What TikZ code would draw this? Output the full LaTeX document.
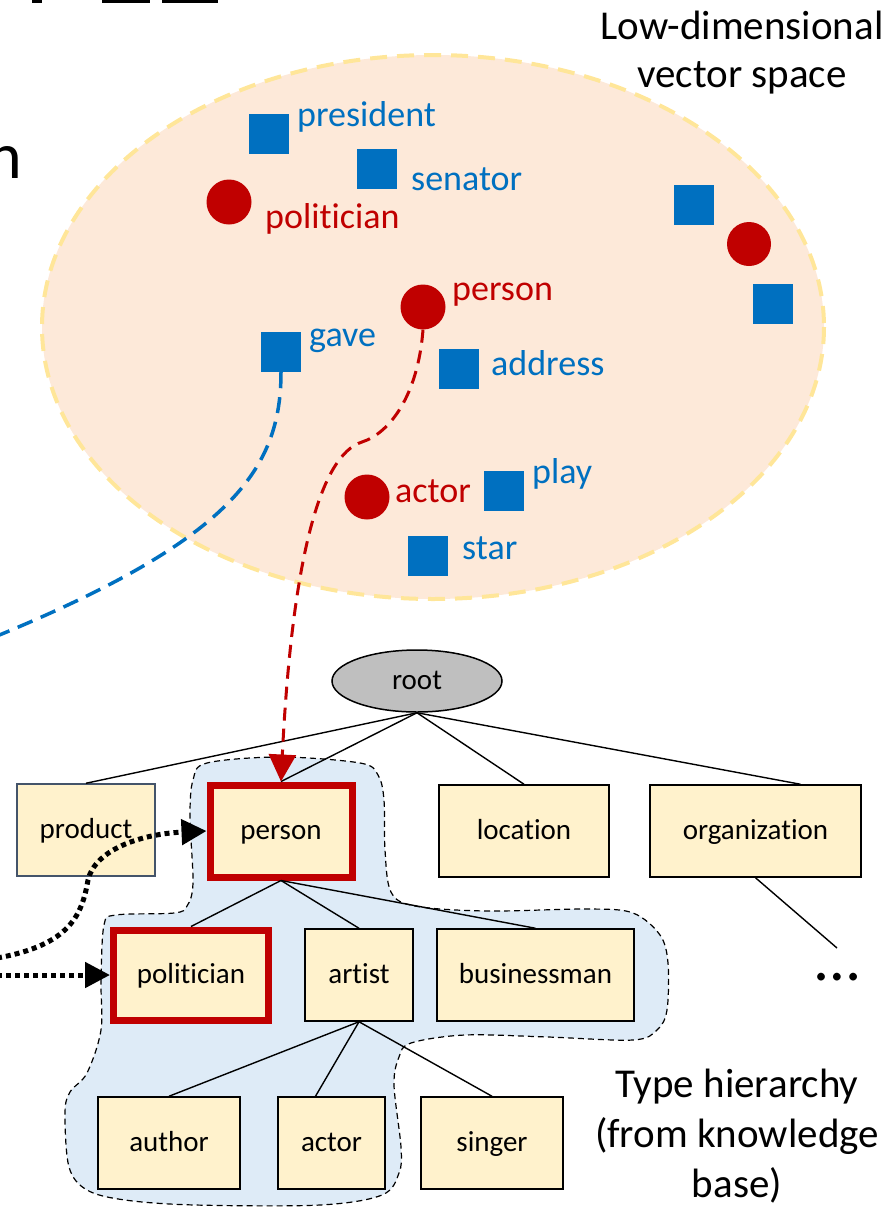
\documentclass[tikz,border=0pt]{standalone}
\usepackage{fontspec}
\setmainfont{Carlito}[Ligatures=NoCommon]
\usetikzlibrary{arrows.meta,shapes.geometric}
\definecolor{vecblue}{HTML}{0070C0}
\definecolor{vecred}{HTML}{C00000}
\definecolor{spacefill}{HTML}{FDE9D9}
\definecolor{spaceedge}{HTML}{FFE699}
\definecolor{typefill}{HTML}{FFF2CC}
\definecolor{groupfill}{HTML}{DEEBF7}
\definecolor{rootfill}{HTML}{BFBFBF}
\definecolor{slate}{HTML}{44546A}

\begin{document}
\begin{tikzpicture}[x=1pt,y=-1pt,
  wordsq/.style={rectangle, fill=vecblue, minimum size=40pt, inner sep=0pt},
  typedot/.style={circle, fill=vecred, minimum size=45pt, inner sep=0pt},
  wordlbl/.style={anchor=base west, inner sep=0pt, text=vecblue, font=\fontsize{36}{43}\selectfont},
  typelbl/.style={wordlbl, text=vecred},
  typebox/.style={rectangle, draw=black, line width=1.5pt, fill=typefill, minimum height=92pt, inner sep=0pt, text height=20pt, text depth=4pt, font=\fontsize{29}{35}\selectfont},
  hitbox/.style={typebox, draw=vecred, line width=7pt},
  treeline/.style={draw=black, line width=1.4pt},
  caption/.style={align=center, anchor=north, inner sep=0pt, font=\fontsize{41}{48}\selectfont},
  bluedash/.style={draw=vecblue, line width=3.5pt, dash pattern=on 16pt off 9pt},
  reddash/.style={draw=vecred, line width=3pt, dash pattern=on 13pt off 8pt},
  dotarrow/.style={draw=black, line width=5pt, dash pattern=on 5pt off 4pt, -{Triangle[length=25pt,width=25pt]}}
]
\useasboundingbox (0,0) rectangle (893,1208);

% cut-off title fragments along the upper edge
\fill[black] (32,0) rectangle (42,3);
\fill[black] (102,0) rectangle (150,3);
\fill[black] (162,0) rectangle (218,3);
\node[anchor=base west, inner sep=0pt, font=\fontsize{66}{70}\selectfont] (cutn) at (-13,178) {n};

% embedding space
\path[fill=spacefill, draw=spaceedge, line width=4pt, dash pattern=on 17pt off 10pt]
  (433,327) ellipse [x radius=391, y radius=272];
\node[caption] (spacecap) at (742,11) {Low-dimensional\\vector space};

% highlighted sub-tree of the hierarchy
\path[fill=groupfill, draw=black, line width=1.2pt, dash pattern=on 6pt off 4pt]
  plot[smooth cycle, tension=0.55] coordinates {
    (207,763) (280,757) (360,763) (378,775) (384,800) (385,850) (391,892)
    (415,906) (486,911) (589,909) (633,913) (660,935) (668,963) (667,1010)
    (657,1030) (633,1040) (548,1037) (465,1035) (411,1043) (399,1057)
    (394,1085) (401,1147) (399,1173) (382,1195) (320,1205) (195,1205)
    (125,1200) (87,1190) (69,1167) (65,1113) (70,1092) (87,1073)
    (101,1030) (101,980) (104,925) (116,915) (174,913) (187,906)
    (193,883) (190,817) (193,780)};

% word and type points
\node[wordsq] (president) at (269,134) {};
\node[wordsq] (senator) at (377,169) {};
\node[typedot] (politicianpt) at (229,202) {};
\node[typedot] (personpt) at (423,307) {};
\node[wordsq] (gave) at (281,352) {};
\node[wordsq] (address) at (459,369) {};
\node[typedot] (actorpt) at (367,497) {};
\node[wordsq] (play) at (504,491) {};
\node[wordsq] (star) at (428,556) {};
\node[wordsq] (wordA) at (694,205) {};
\node[typedot, minimum size=44pt] (typeA) at (749,244) {};
\node[wordsq] (wordB) at (773,304) {};

\node[wordlbl] (presidentlbl) at (297,126) {president};
\node[wordlbl] (senatorlbl) at (411,190) {senator};
\node[typelbl] (politicianlbl) at (265,228) {politician};
\node[typelbl] (personlbl) at (452,300) {person};
\node[wordlbl] (gavelbl) at (309,346) {gave};
\node[wordlbl] (addresslbl) at (491,375) {address};
\node[typelbl] (actorlbl) at (395,502) {actor};
\node[wordlbl] (playlbl) at (532,483) {play};
\node[wordlbl] (starlbl) at (462,559) {star};

% type hierarchy
\node[ellipse, draw=black, fill=rootfill, line width=1.5pt, minimum width=170pt, minimum height=62pt, inner sep=0pt, text height=20pt, text depth=4pt, font=\fontsize{29}{35}\selectfont] (root) at (417,681) {root};
\node[typebox, draw=slate, minimum width=138pt] (product) at (86,830) {product};
\node[hitbox, minimum width=142pt] (person) at (281,831) {person};
\node[typebox, minimum width=170pt] (location) at (524,831) {location};
\node[typebox, minimum width=211pt] (organization) at (755.5,831) {organization};
\node[hitbox, minimum width=155pt, minimum height=90pt] (politician) at (191,975) {politician};
\node[typebox, minimum width=108pt] (artist) at (359,975) {artist};
\node[typebox, minimum width=197pt] (businessman) at (535.5,975) {businessman};
\node[typebox, minimum width=142pt] (author) at (169,1143) {author};
\node[typebox, minimum width=107pt] (actor) at (331.5,1143) {actor};
\node[typebox, minimum width=142pt] (singer) at (492,1143) {singer};
\coordinate (moreend) at (837,948);
\node[anchor=base, inner sep=0pt, font=\fontsize{64}{70}\selectfont] (more) at (838,980) {…};
\node[caption, font=\fontsize{41}{50}\selectfont] (treecap) at (737,1069) {Type hierarchy\\(from knowledge\\base)};

\draw[treeline] (root.south) -- (product.north);
\draw[treeline] (root.south) -- (person.north);
\draw[treeline] (root.south) -- (location.north);
\draw[treeline] (root.south) -- ([xshift=45pt]organization.north);
\draw[treeline] (person.south) -- (politician.north);
\draw[treeline] (person.south) -- (artist.north);
\draw[treeline] (person.south) -- (businessman.north);
\draw[treeline] (artist.south) -- (author.north);
\draw[treeline] (artist.south) -- ([xshift=-16pt]actor.north);
\draw[treeline] (artist.south) -- (singer.north);
\draw[treeline] (organization.south) -- (moreend);

% links from the embedding space and from the mentions
\coordinate (blueend) at (-3,636);
\draw[bluedash] (gave.south) .. controls (281,470) and (230,540) .. (blueend);
\draw[reddash, -{Triangle[length=27pt,width=27pt]}] (personpt.south)
  .. controls (418,395) and (390,433) .. (362,442)
  .. controls (320,455) and (292,560) .. (person.north);

\coordinate (dotA) at (-3,958);
\coordinate (dotB) at (-3,975);
\draw[dotarrow] (dotA) .. controls (70,945) and (82,915) .. (88,880)
  .. controls (95,850) and (140,834) .. (person.west);
\draw[dotarrow] (dotB) -- (politician.west);
\end{tikzpicture}
\end{document}
